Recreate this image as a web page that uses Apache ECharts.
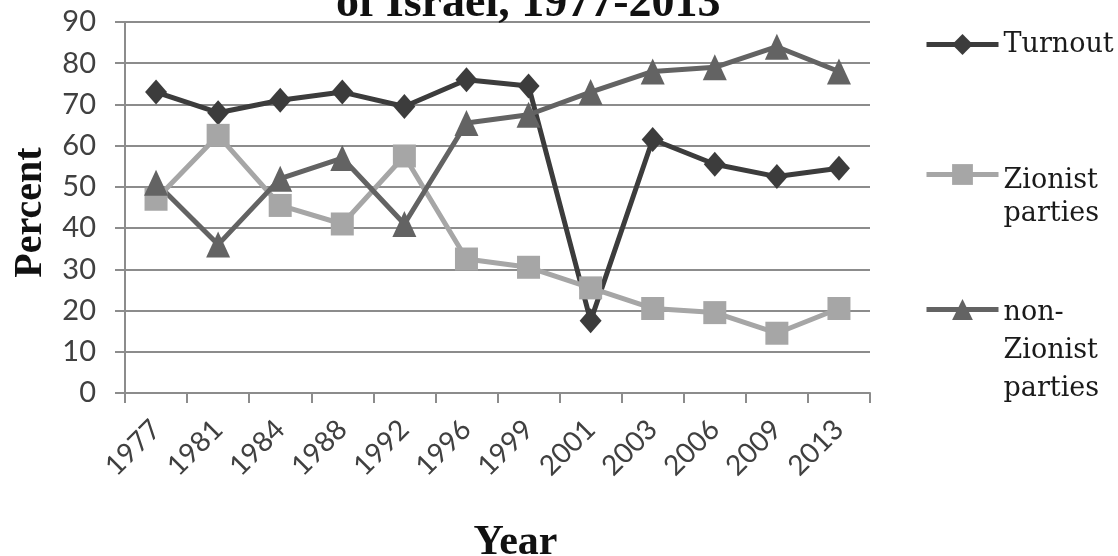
<!DOCTYPE html>
<html>
<head>
<meta charset="utf-8">
<script src="https://cdn.jsdelivr.net/npm/echarts@6/dist/echarts.min.js"></script>
<style>
  html, body { margin: 0; padding: 0; background: #ffffff; }
  #chart { width: 1118px; height: 556px; }
</style>
</head>
<body>
<div id="chart"></div>
<script>
// Election years (category axis)
const years = ['1977', '1981', '1984', '1988', '1992', '1996', '1999', '2001', '2003', '2006', '2009', '2013'];

// Series names
const seriesNames = ['Turnout', 'Zionist parties', 'non-Zionist parties'];

// Percent values per election
const turnout    = [73, 68, 71, 73, 69.5, 76, 74.5, 17.5, 61.5, 55.5, 52.5, 54.5];
const zionist    = [47, 62.5, 45.5, 41, 57.5, 32.5, 30.5, 25.5, 20.5, 19.5, 14.5, 20.5];
const nonZionist = [51, 36, 52, 57, 41, 65.5, 67.5, 73, 78, 79, 84, 78];

// Y axis range
const yMin = 0, yMax = 90, yStep = 10;

// Legend label lines (first line sits level with the key)
const legendLines = {
  'Turnout': ['Turnout'],
  'Zionist parties': ['Zionist', 'parties'],
  'non-Zionist parties': ['non-', 'Zionist', 'parties']
};

const gridColor = '#8c8c8c';
const serif = 'Liberation Serif';
const legendFont = 'DejaVu Serif';

// One legend box per series; an invisible lead line pushes the wrapped
// label down so its first line lines up with the key.
function legendFor(name, top, lead, lh) {
  return {
    show: true,
    data: [name],
    orient: 'vertical',
    left: 924,
    top: top,
    padding: 0,
    itemWidth: 72,
    itemHeight: 26,
    selectedMode: false,
    lineStyle: { width: 5 },
    formatter: function (nm) {
      const lines = legendLines[nm].map(function (s) { return '{t|' + s + '}'; });
      return (lead > 0 ? ['{e| }'].concat(lines) : lines).join('\n');
    },
    textStyle: {
      color: '#1a1a1a',
      fontFamily: legendFont,
      fontSize: 27,
      rich: {
        e: { lineHeight: lead, fontSize: 27, fontFamily: legendFont },
        t: { lineHeight: lh, fontSize: 27, fontFamily: legendFont, color: '#1a1a1a' }
      }
    }
  };
}

const chart = echarts.init(document.getElementById('chart'), null, { renderer: 'canvas' });

chart.setOption({
  animation: false,
  backgroundColor: '#ffffff',
  title: {
    text: 'of Israel, 1977-2013',
    left: 336,
    top: -19,
    padding: 0,
    textStyle: {
      fontFamily: serif,
      fontWeight: 'bold',
      fontSize: 46,
      color: '#111111'
    }
  },
  legend: [
    legendFor(seriesNames[0], 31, 0, 36),
    legendFor(seriesNames[1], 128, 46, 33),
    legendFor(seriesNames[2], 239, 82, 38)
  ],
  grid: {
    left: 125,
    right: 248,
    top: 22,
    bottom: 163,
    containLabel: false,
    outerBoundsMode: 'none'
  },
  xAxis: {
    type: 'category',
    data: years,
    boundaryGap: true,
    name: 'Year',
    nameLocation: 'middle',
    nameGap: 129,
    nameTextStyle: {
      fontFamily: serif,
      fontWeight: 'bold',
      fontSize: 42,
      color: '#111111',
      padding: [0, 0, 0, 36]
    },
    axisLine: { show: true, lineStyle: { color: gridColor, width: 2 } },
    axisTick: { show: true, alignWithLabel: false, length: 10, lineStyle: { color: gridColor, width: 2 } },
    axisLabel: {
      interval: 0,
      rotate: 45,
      margin: 32,
      fontFamily: 'Lato',
      fontSize: 28,
      color: '#404040'
    },
    splitLine: { show: false }
  },
  yAxis: {
    type: 'value',
    min: yMin,
    max: yMax,
    interval: yStep,
    name: 'Percent',
    nameLocation: 'middle',
    nameGap: 74,
    nameTextStyle: {
      fontFamily: serif,
      fontWeight: 'bold',
      fontSize: 40,
      color: '#111111',
      padding: [0, 10, 0, 0]
    },
    axisLine: { show: true, lineStyle: { color: gridColor, width: 2 } },
    axisTick: { show: true, length: 10, lineStyle: { color: gridColor, width: 2 } },
    axisLabel: {
      margin: 29,
      fontFamily: 'Lato',
      fontSize: 29,
      color: '#404040'
    },
    splitLine: { show: true, lineStyle: { color: gridColor, width: 2 } }
  },
  series: [
    {
      name: seriesNames[0],
      type: 'line',
      data: turnout,
      symbol: 'diamond',
      symbolSize: [22, 25],
      showAllSymbol: true,
      lineStyle: { color: '#3c3c3c', width: 5 },
      itemStyle: { color: '#3c3c3c' }
    },
    {
      name: seriesNames[1],
      type: 'line',
      data: zionist,
      symbol: 'rect',
      symbolSize: 23,
      showAllSymbol: true,
      lineStyle: { color: '#a6a6a6', width: 5 },
      itemStyle: { color: '#a6a6a6' }
    },
    {
      name: seriesNames[2],
      type: 'line',
      data: nonZionist,
      symbol: 'triangle',
      symbolSize: [24, 26],
      showAllSymbol: true,
      lineStyle: { color: '#636363', width: 5 },
      itemStyle: { color: '#636363' }
    }
  ]
});
</script>
</body>
</html>
